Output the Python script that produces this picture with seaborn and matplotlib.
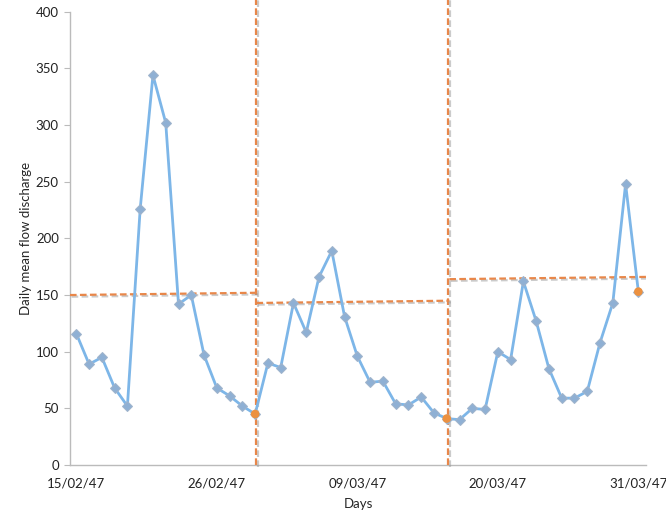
import numpy as np
import pandas as pd
import matplotlib
matplotlib.use("Agg")
import matplotlib.pyplot as plt
import matplotlib.patheffects as pe
import seaborn as sns

# daily mean flow discharge, 15/02/47 .. 31/03/47
flow = [116, 89, 95, 68, 52, 226, 344, 302, 142, 150, 97, 68, 61, 52, 45,
        90, 86, 143, 117, 166, 189, 131, 96, 73, 74, 54, 53, 60, 46, 41,
        40, 50, 49, 100, 93, 162, 127, 85, 59, 59, 65, 108, 143, 248, 153]
break_days = [14, 29, 44]
tick_days = [0, 11, 22, 33, 44]
tick_labels = ["15/02/47", "26/02/47", "09/03/47", "20/03/47", "31/03/47"]

# per-period mean lines (start day, end day, level at start, level at end)
seg_start = [-0.5, 14.1, 29.2]
seg_end = [14.1, 29.2, 44.6]
seg_left = [150, 143, 164]
seg_right = [152, 145, 166]

df = pd.DataFrame({"day": np.arange(len(flow)), "flow": flow})
brk = df[df["day"].isin(break_days)]

sns.set_style("white")
plt.rcParams["font.family"] = ["Lato", "DejaVu Sans"]
plt.rcParams["text.color"] = "#222222"

fig = plt.figure(figsize=(6.66, 5.11), dpi=100)
ax = fig.add_axes([0.105, 0.090, 0.865, 0.887])

shadow = [pe.SimpleLineShadow(offset=(1.2, -1.2), shadow_color="#999999", alpha=0.5), pe.Normal()]
orange = "#E8874A"

# vertical period boundaries
for d in break_days[:2]:
    ax.plot([d + 0.1, d + 0.1], [0, 412], color=orange, lw=1.6, ls=(0, (3, 1.5)),
            clip_on=False, path_effects=shadow, zorder=3)

# mean levels
for s, e, l, r in zip(seg_start, seg_end, seg_left, seg_right):
    ax.plot([s, e], [l, r], color=orange, lw=1.6, ls=(0, (3, 1.5)),
            path_effects=shadow, zorder=3)

sns.lineplot(data=df, x="day", y="flow", ax=ax, color="#7DB6E8", lw=2,
             marker="D", markersize=5, markerfacecolor="#8FB0D4",
             markeredgecolor="#A0B4CC", zorder=4)
sns.scatterplot(data=brk, x="day", y="flow", ax=ax, color="#EC9140", s=38,
                edgecolor="none", zorder=5)

ax.set_xlim(-0.5, 44.6)
ax.set_ylim(0, 400)
ax.set_yticks(np.arange(0, 401, 50))
ax.set_xticks(tick_days)
ax.set_xticklabels(tick_labels)
ax.tick_params(axis="y", length=4, color="#bbbbbb", labelsize=9.5, pad=4, left=True,
               labelcolor="#222222")
ax.tick_params(axis="x", length=0, labelsize=9.5, pad=9, labelcolor="#222222")
for side in ["top", "right"]:
    ax.spines[side].set_visible(False)
for side in ["left", "bottom"]:
    ax.spines[side].set_color("#bbbbbb")
    ax.spines[side].set_linewidth(1)
ax.set_xlabel("Days", fontsize=9.5, labelpad=6)
ax.set_ylabel("Daily mean flow discharge", fontsize=9.5, labelpad=3)

fig.savefig("out.png", dpi=100)
